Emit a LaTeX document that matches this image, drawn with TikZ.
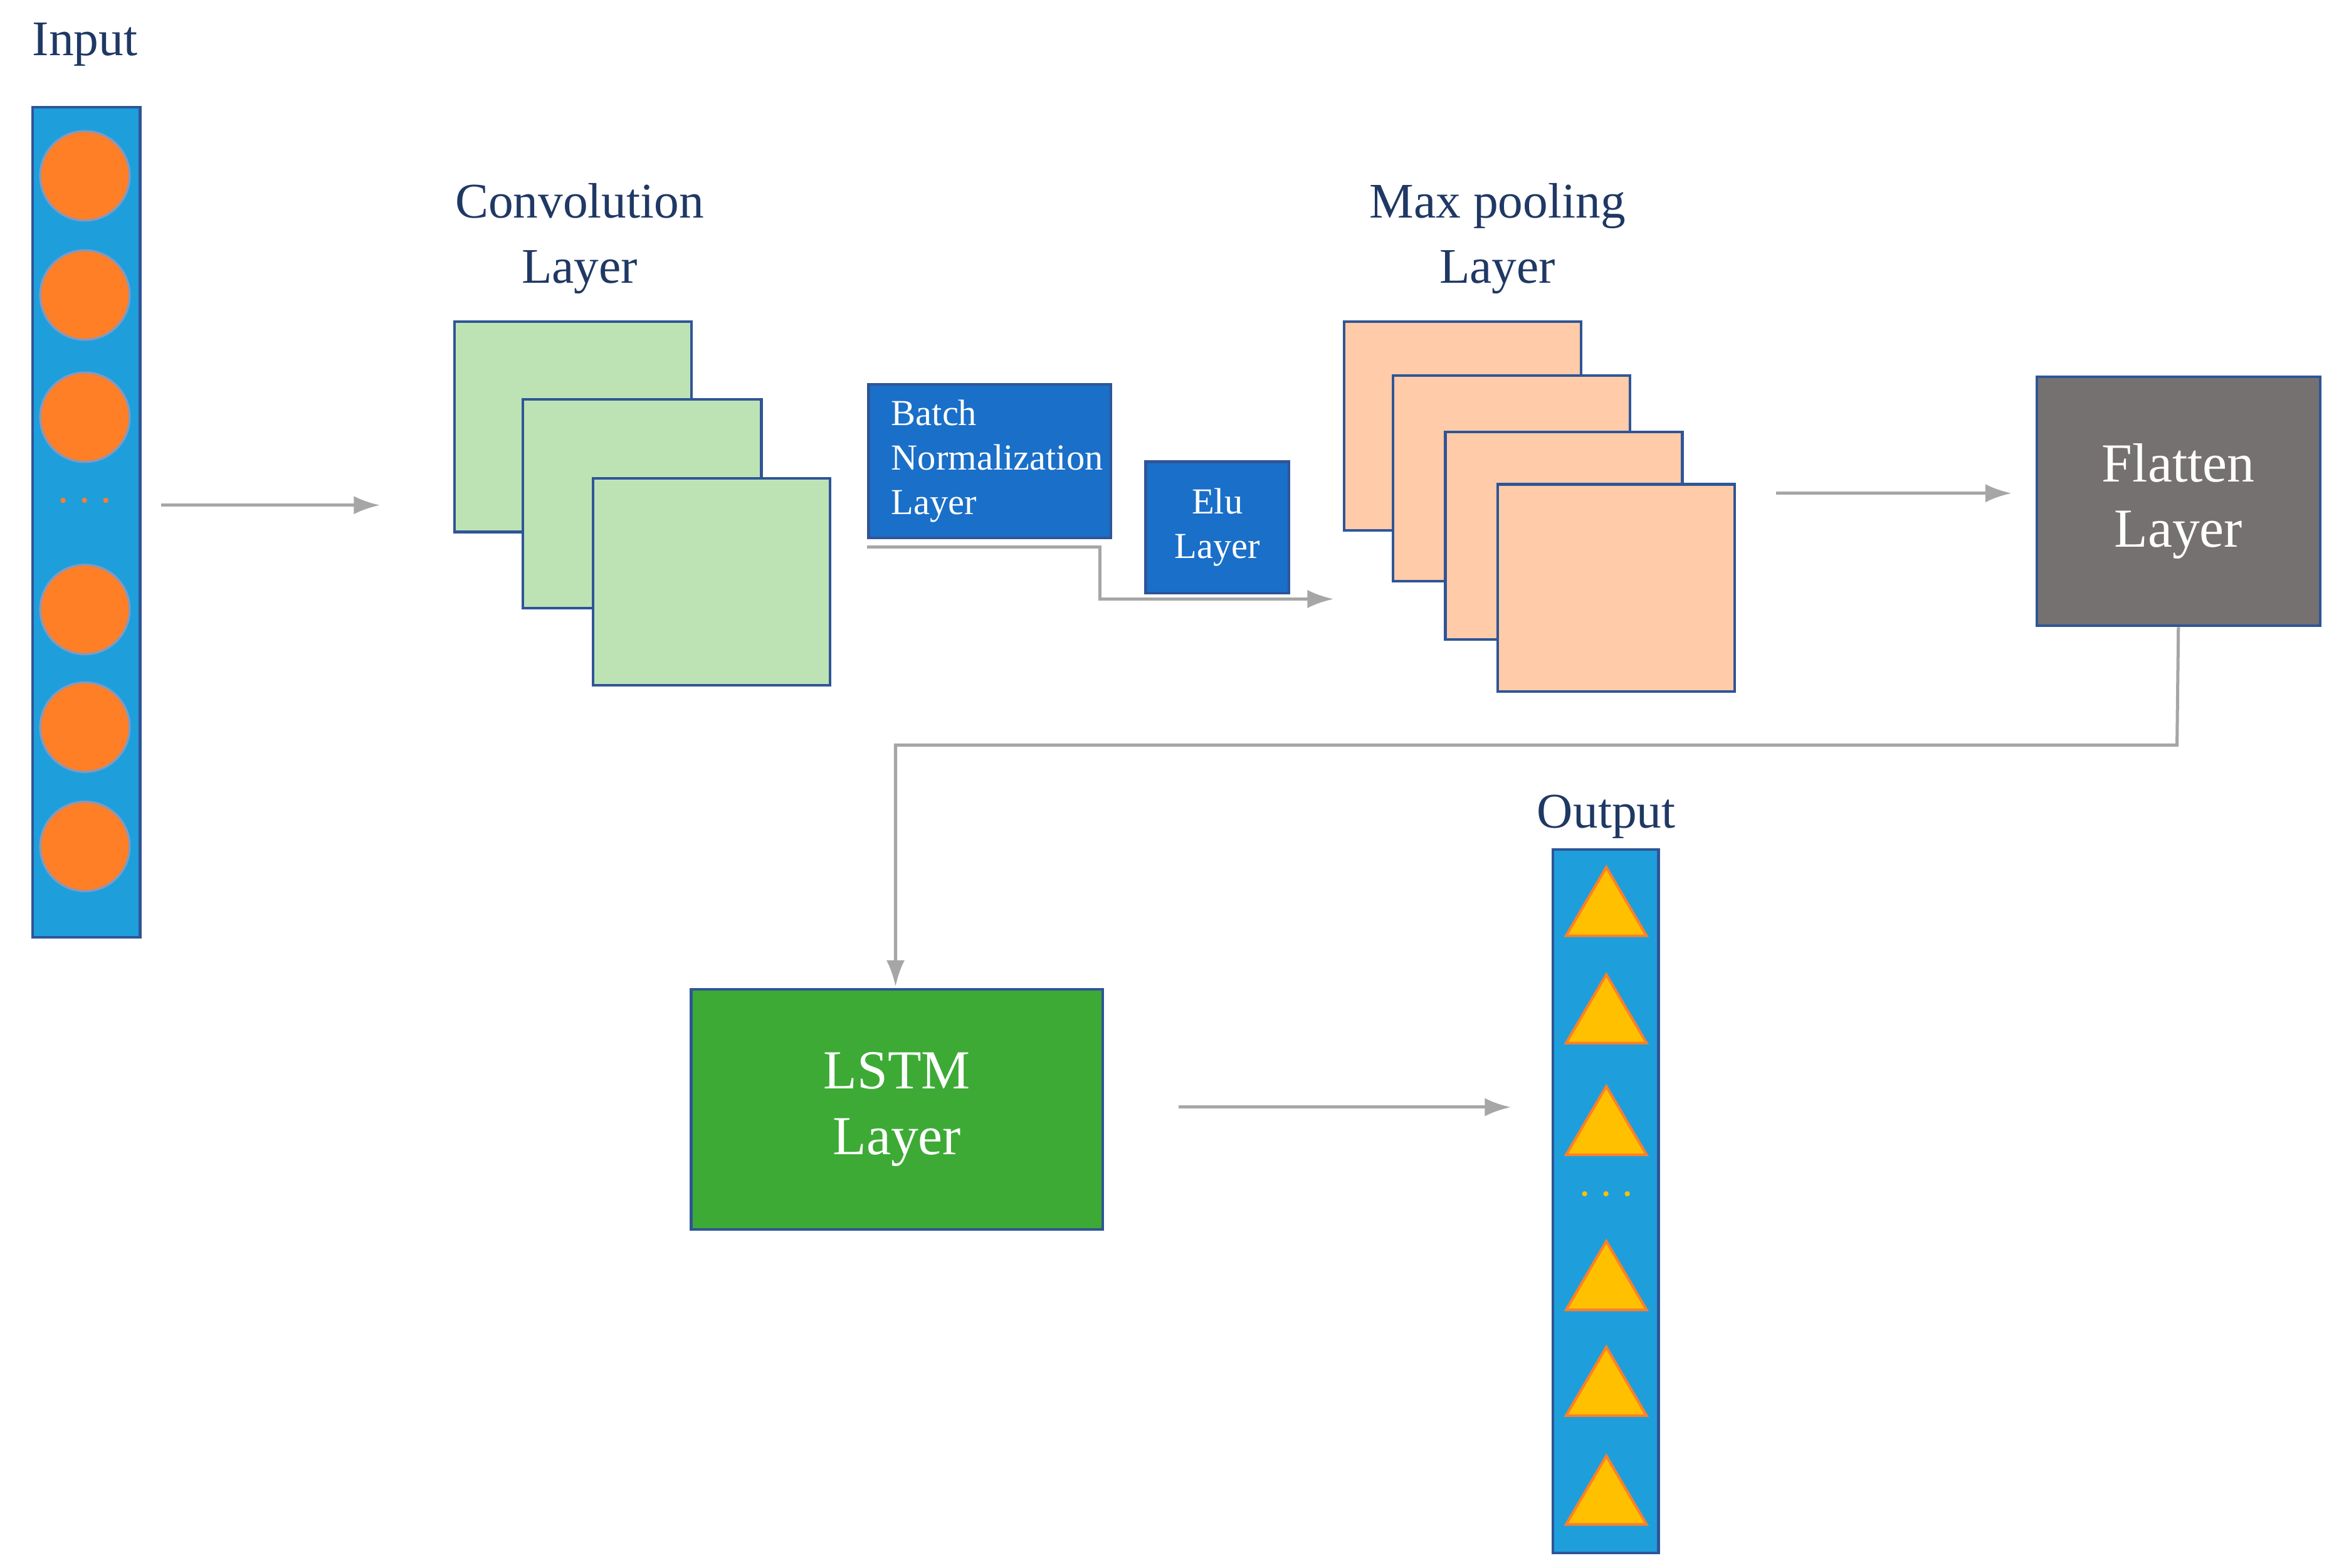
\documentclass[tikz,border=0pt]{standalone}
\usepackage{fontspec}
\setmainfont{Liberation Serif}
\usetikzlibrary{arrows.meta}
\definecolor{navy}{HTML}{1F3864}
\definecolor{barblue}{HTML}{1E9FDB}
\definecolor{edge}{HTML}{2F5597}
\definecolor{orng}{HTML}{FF7F27}
\definecolor{convg}{HTML}{BDE3B5}
\definecolor{poolp}{HTML}{FFCBA8}
\definecolor{bnblue}{HTML}{1A6FC8}
\definecolor{flatg}{HTML}{767171}
\definecolor{lstmg}{HTML}{3DAA35}
\definecolor{tri}{HTML}{FFC000}
\definecolor{conn}{HTML}{A6A6A6}
\begin{document}
\begin{tikzpicture}[x=0.01cm,y=-0.01cm,
  title/.style={text=navy,font=\fontsize{9.5}{12.5}\selectfont,align=center},
  sq/.style={draw=edge,line width=0.5pt},
  wbox/.style={draw=edge,line width=0.5pt,text=white},
  arr/.style={draw=conn,line width=0.6pt,-{Latex[length=5pt,width=3.5pt]}},
  circ/.style={circle,fill=orng,draw=edge!60,line width=0.4pt,minimum size=0.6cm,inner sep=0pt},
  trin/.style={fill=tri,draw=orng,line width=0.5pt}]
\useasboundingbox (0,0) rectangle (1563,1052);
% input
\node[title] (tin) at (57,30) {Input};
\filldraw[fill=barblue,draw=edge,line width=0.5pt] (22,72) rectangle (94,629);
\node (inbar) at (58,350) [minimum width=0.72cm,minimum height=5.57cm] {};
\foreach \y/\n in {118/a,198/b,280/c,409/d,488/e,568/f} \node[circ] (c\n) at (57,\y) {};
\node[text=orng,font=\small] (cdots) at (57,337) {$\cdots$};
\coordinate (a1s) at (108,339); \coordinate (a1e) at (255,339);
\draw[arr] (a1s) -- (a1e);
% conv
\node[title] (tconv) at (389,160) {Convolution\\Layer};
\filldraw[sq,fill=convg] (305,216) rectangle (464,357);
\filldraw[sq,fill=convg] (351,268) rectangle (511,408);
\filldraw[sq,fill=convg] (398,321) rectangle (557,460);
% batch norm
\node[wbox,fill=bnblue,minimum width=1.6cm,minimum height=1.03cm,anchor=north west,align=left,font=\fontsize{7}{8.5}\selectfont,inner sep=1.5pt] (bn) at (582,257) {\hspace{0.1cm}\begin{tabular}{@{}l@{}}Batch\\Normalization\\Layer\end{tabular}};
\node[wbox,fill=bnblue,minimum width=0.96cm,minimum height=0.88cm,anchor=north west,align=center,font=\fontsize{7}{8.5}\selectfont,inner sep=1pt] (elu) at (768,309) {Elu\\Layer};
\coordinate (c2s) at (582,367); \coordinate (c2e) at (895,402);
\draw[arr] (c2s) -- (738,367) -- (738,402) -- (c2e);
% max pool
\node[title] (tpool) at (1005,160) {Max pooling\\Layer};
\filldraw[sq,fill=poolp] (902,216) rectangle (1061,356);
\filldraw[sq,fill=poolp] (935,252) rectangle (1094,390);
\filldraw[sq,fill=poolp] (970,290) rectangle (1129,429);
\filldraw[sq,fill=poolp] (1005,325) rectangle (1164,464);
\coordinate (a3s) at (1192,331);
% flatten
\node[wbox,fill=flatg,minimum width=1.9cm,minimum height=1.67cm,anchor=north west,align=center,font=\fontsize{10.5}{12.5}\selectfont] (flat) at (1366,252) {Flatten\\Layer};
\draw[arr] (a3s) -- (1350,331);
% lstm
\node[wbox,fill=lstmg,minimum width=2.76cm,minimum height=1.61cm,anchor=north west,align=center,font=\fontsize{10.5}{12.5}\selectfont] (lstm) at (463,663) {LSTM\\Layer};
\draw[arr] (flat.south) -- (1461,500) -- (601,500) -- (601,662);
% output
\node[title] (tout) at (1078,548) {Output};
\filldraw[fill=barblue,draw=edge,line width=0.5pt] (1042,570) rectangle (1113,1042);
\foreach \y in {605,677,752,856,927,1000}
  \filldraw[trin] (1051,\y+23) -- (1105,\y+23) -- (1078,\y-23) -- cycle;
\node[text=tri,font=\small] (tdots) at (1078,802) {$\cdots$};
\coordinate (a4s) at (791,743); \coordinate (a4e) at (1014,743);
\draw[arr] (a4s) -- (a4e);
\end{tikzpicture}
\end{document}
